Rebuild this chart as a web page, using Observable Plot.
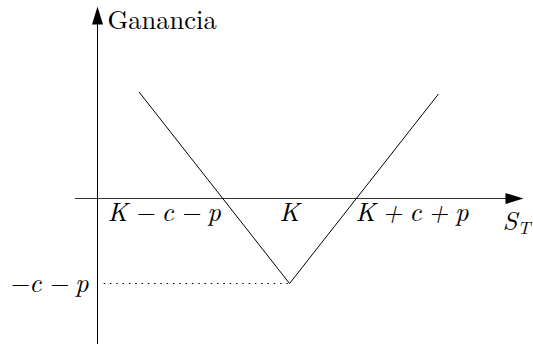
<!DOCTYPE html>
<html><head><meta charset="utf-8">
<script src="https://cdn.jsdelivr.net/npm/d3@7"></script>
<script src="https://cdn.jsdelivr.net/npm/@observablehq/plot@0.6"></script>
<style>body{margin:0;background:#fff}</style>
</head><body><div id="chart"></div>
<script>
// Straddle payoff: price S_T vs profit (arbitrary units)
const strike = 11.5;           // K
const premium = 4;             // c + p
const priceS = [2.5, 11.5, 20.4];
const profit = [5, -4, 4.9];
const xLabels = ["K\u2005\u2212\u2005c\u2005\u2212\u2005p", "K", "K\u2005+\u2005c\u2005+\u2005p"];
const xLabelPos = [strike - premium, strike, strike + premium];
const yLabel = "\u2212c\u2005\u2212\u2005p";
const yTitle = "Ganancia";
const xTitle = ["S", "T"];

const payoff = priceS.map((s, i) => ({s, p: profit[i]}));

const arrowHead = {
  draw(ctx) {
    ctx.moveTo(0, 0);
    ctx.lineTo(5.5, 18);
    ctx.lineTo(-5.5, 18);
    ctx.closePath();
  }
};

const pxX = 16.7, pxY = 21.25;
const font = "Latin Modern Roman";
const T = {fontSize: 26.5, fontFamily: font, lineAnchor: "bottom"};

const chart = Plot.plot({
  width: 533,
  height: 349,
  margin: 0,
  x: {domain: [-97 / pxX, 436 / pxX], axis: null},
  y: {domain: [-151 / pxY, 198 / pxY], axis: null},
  marks: [
    Plot.ruleY([0], {x1: -22 / pxX, x2: 410 / pxX, stroke: "#333", strokeWidth: 1.2}),
    Plot.ruleX([0], {y1: -146 / pxY, y2: 175 / pxY, stroke: "black", strokeWidth: 1}),
    Plot.dot([{x: 0, y: 192 / pxY}], {x: "x", y: "y", symbol: arrowHead, fill: "black", stroke: "none", r: 5}),
    Plot.dot([{x: 426 / pxX, y: 0}], {x: "x", y: "y", symbol: arrowHead, fill: "black", stroke: "none", r: 5, rotate: 90}),
    Plot.ruleY([-premium], {x1: 0.4, x2: strike, stroke: "black", strokeWidth: 1, strokeDasharray: "1.5,4.8"}),
    Plot.line(payoff, {x: "s", y: "p", stroke: "black", strokeWidth: 1}),
    Plot.text([xLabels[0]], {...T, x: xLabelPos[0], y: 0, text: d => d, textAnchor: "end", dx: -2, dy: 22, fontStyle: "italic"}),
    Plot.text([xLabels[1]], {...T, x: xLabelPos[1], y: 0, text: d => d, textAnchor: "middle", dy: 22, fontStyle: "italic"}),
    Plot.text([xLabels[2]], {...T, x: xLabelPos[2], y: 0, text: d => d, textAnchor: "start", dx: -1, dy: 22, fontStyle: "italic"}),
    Plot.text([yLabel], {...T, x: 0, y: -premium, text: d => d, textAnchor: "end", dx: -9, dy: 8.5, fontStyle: "italic"}),
    Plot.text([yTitle], {...T, x: 0, y: 192 / pxY, text: d => d, textAnchor: "start", dx: 10, dy: 22}),
    Plot.text([xTitle[0]], {...T, x: 426 / pxX, y: 0, text: d => d, textAnchor: "start", dx: -21, dy: 31, fontStyle: "italic"}),
    Plot.text([xTitle[1]], {...T, x: 426 / pxX, y: 0, text: d => d, textAnchor: "start", dx: -6, dy: 35, fontSize: 18, fontStyle: "italic"})
  ]
});
chart.setAttribute("font-family", font);
chart.querySelectorAll("text").forEach(t => t.setAttribute("font-family", font));
document.getElementById("chart").appendChild(chart);
</script>
</body></html>
